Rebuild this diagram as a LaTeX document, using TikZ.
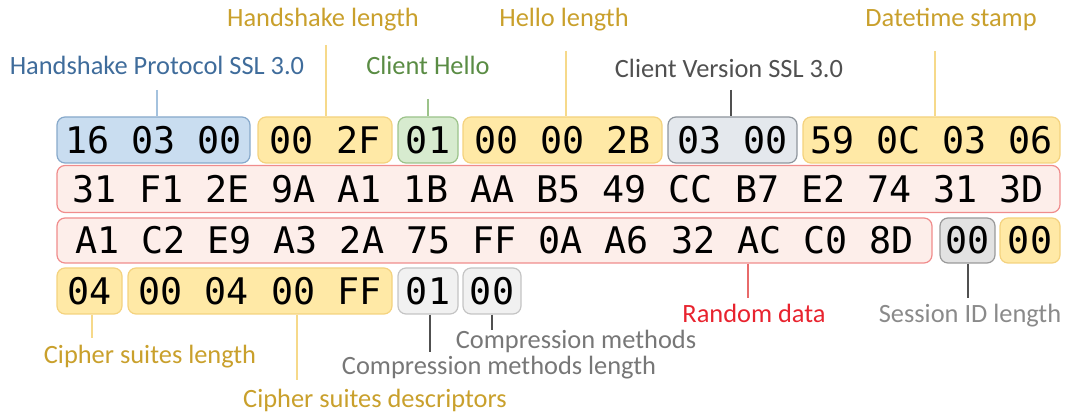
\documentclass[tikz,border=0pt]{standalone}
\usepackage{fontspec}
\setmainfont{Carlito}
\newfontfamily\hexfont{DejaVu Sans Mono}
\definecolor{bluefill}{HTML}{C9DDF0}\definecolor{blueline}{HTML}{87A9CB}\definecolor{bluetxt}{HTML}{3F6C9B}\definecolor{bluecon}{HTML}{A4C2DE}
\definecolor{yelfill}{HTML}{FFE9A6}\definecolor{yelline}{HTML}{F4D27E}\definecolor{yeltxt}{HTML}{C9A02C}\definecolor{yelcon}{HTML}{F6D98A}
\definecolor{grnfill}{HTML}{D7EBCF}\definecolor{grnline}{HTML}{9CC38A}\definecolor{grntxt}{HTML}{5A8C44}
\definecolor{gryfill}{HTML}{E4E8ED}\definecolor{gryline}{HTML}{8E959C}\definecolor{grytxt}{HTML}{505050}
\definecolor{redfill}{HTML}{FDEEEA}\definecolor{redline}{HTML}{F08C8C}\definecolor{redtxt}{HTML}{E8232E}\definecolor{redcon}{HTML}{E86A6A}
\definecolor{sesfill}{HTML}{E2E2E2}\definecolor{sesline}{HTML}{999999}\definecolor{sestxt}{HTML}{8A8A8A}
\definecolor{cmpfill}{HTML}{F1F1F1}\definecolor{cmpline}{HTML}{C4C4C4}\definecolor{cmptxt}{HTML}{777777}
\begin{document}
\begin{tikzpicture}[x=0.75pt,y=-0.75pt,
  hexbox/.style 2 args={draw, rounded corners=6pt, line width=0.9pt, inner sep=0pt,
     minimum width=#1*0.75pt, minimum height=#2*0.75pt,
     font=\hexfont\fontsize{27.5}{30}\selectfont, text=black},
  bluebox/.style={fill=bluefill, draw=blueline},
  yelbox/.style={fill=yelfill, draw=yelline},
  grnbox/.style={fill=grnfill, draw=grnline},
  grybox/.style={fill=gryfill, draw=gryline},
  redbox/.style={fill=redfill, draw=redline},
  sesbox/.style={fill=sesfill, draw=sesline},
  cmpbox/.style={fill=cmpfill, draw=cmpline},
  lbl/.style={font=\fontsize{19.8}{22}\selectfont, inner sep=0pt},
  con/.style={line width=0.9pt}
]
\useasboundingbox (0,0) rectangle (1068,416);
% row 1
\node[hexbox={193}{46}, bluebox] (b1) at (153.5,140) {16 03 00};
\node[hexbox={134}{46}, yelbox] (b2) at (325,140) {00 2F};
\node[hexbox={60}{46}, grnbox] (b3) at (428,140) {01};
\node[hexbox={199}{46}, yelbox] (b4) at (562.5,140) {00 00 2B};
\node[hexbox={129}{46}, grybox] (b5) at (732.5,140) {03 00};
\node[hexbox={257}{46}, yelbox] (b6) at (931.5,140) {59 0C 03 06};
% row 2
\node[hexbox={1003}{47}, redbox] (r2) at (558.5,189) {31 F1 2E 9A A1 1B AA B5 49 CC B7 E2 74 31 3D};
% row 3
\node[hexbox={875}{45}, redbox] (r3) at (494.5,240.5) {A1 C2 E9 A3 2A 75 FF 0A A6 32 AC C0 8D};
\node[hexbox={55}{45}, sesbox] (s1) at (967.5,240.5) {00};
\node[hexbox={60}{45}, yelbox] (s2) at (1030,240.5) {00};
% row 4
\node[hexbox={65}{46}, yelbox] (c1) at (89.5,291) {04};
\node[hexbox={264}{46}, yelbox] (c2) at (260,291) {00 04 00 FF};
\node[hexbox={60}{46}, cmpbox] (c3) at (428,291) {01};
\node[hexbox={58}{46}, cmpbox] (c4) at (492,291) {00};
% top labels
\node[lbl, text=bluetxt] (lHP) at (157,65) {Handshake Protocol SSL 3.0};
\node[lbl, text=yeltxt] (lHL) at (323,20) {Handshake length};
\node[lbl, text=grntxt] (lCH) at (428,65) {Client Hello};
\node[lbl, text=yeltxt] (lHeL) at (564,20) {Hello length};
\node[lbl, text=grytxt] (lCV) at (729,68) {Client Version SSL 3.0};
\node[lbl, text=yeltxt] (lDT) at (951,20) {Datetime stamp};
% bottom labels
\node[lbl, text=redtxt] (lRD) at (754,313) {Random data};
\node[lbl, text=sestxt] (lSI) at (970,316) {Session ID length};
\node[lbl, text=yeltxt] (lCL) at (150,357) {Cipher suites length};
\node[lbl, text=yeltxt] (lCD) at (375,400) {Cipher suites descriptors};
\node[lbl, text=cmptxt] (lML) at (499,368) {Compression methods length};
\node[lbl, text=cmptxt] (lCM) at (576,341) {Compression methods};
% connector top points
\coordinate (tHP) at (157,90);
\coordinate (tHL) at (326,45);
\coordinate (tCH) at (428,99);
\coordinate (tHeL) at (566,51);
\coordinate (tCV) at (731,90);
\coordinate (tDT) at (935,51);
\draw[con, draw=bluecon] (tHP) -- (tHP |- b1.north);
\draw[con, draw=yelcon] (tHL) -- (tHL |- b2.north);
\draw[con, draw=grnline] (tCH) -- (tCH |- b3.north);
\draw[con, draw=yelcon] (tHeL) -- (tHeL |- b4.north);
\draw[con, draw=grytxt] (tCV) -- (tCV |- b5.north);
\draw[con, draw=yelcon] (tDT) -- (tDT |- b6.north);
% bottom connectors
\coordinate (pRD) at (748,298);
\coordinate (pSI) at (968,298);
\coordinate (pCL) at (92,338);
\coordinate (pCD) at (297,380);
\coordinate (pML) at (430,352);
\coordinate (pCM) at (492,330);
\draw[con, draw=redcon] (pRD |- r3.south) -- (pRD);
\draw[con, draw=grytxt] (pSI |- s1.south) -- (pSI);
\draw[con, draw=yelcon] (pCL |- c1.south) -- (pCL);
\draw[con, draw=yelcon] (pCD |- c2.south) -- (pCD);
\draw[con, draw=grytxt] (pML |- c3.south) -- (pML);
\draw[con, draw=grytxt] (pCM |- c4.south) -- (pCM);
\end{tikzpicture}
\end{document}
